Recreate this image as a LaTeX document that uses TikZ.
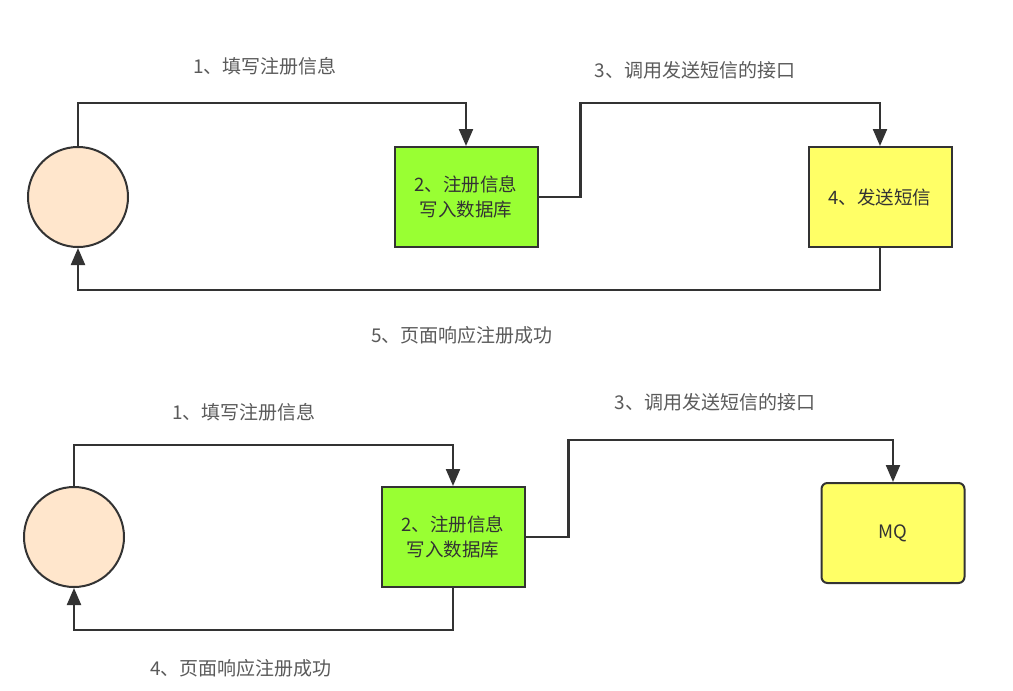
\documentclass[tikz,border=0pt]{standalone}
\usepackage{fontspec}
\setmainfont{Noto Sans CJK SC}
\usepackage{tikz}
\usetikzlibrary{arrows.meta,positioning,calc}
\usepackage{xcolor}
\definecolor{userpeach}{RGB}{255,230,204}
\definecolor{dbgreen}{RGB}{153,255,51}
\definecolor{smsyellow}{RGB}{255,255,102}
\definecolor{edgegray}{RGB}{51,51,51}
\definecolor{labelgray}{RGB}{90,90,90}

\begin{document}
\begin{tikzpicture}[x=1pt,y=-1pt,
    user/.style={circle,draw=edgegray,line width=2pt,fill=userpeach,minimum size=100pt,inner sep=0pt},
    box/.style={rectangle,draw=edgegray,line width=2pt,minimum width=143pt,minimum height=100pt,
        align=center,font=\fontsize{18.5}{25}\selectfont,text=edgegray},
    flow/.style={draw=edgegray,line width=2.2pt,-{Triangle[length=17pt,width=14pt]}},
    lbl/.style={font=\fontsize{19}{22}\selectfont,text=labelgray}]
    \useasboundingbox (0,0) rectangle (1013,691);
    % upper flow: everything in one request
    \node[user] (u1) at (78,197) {};
    \node[box,fill=dbgreen] (db1) at (466,197) {2、注册信息\\写入数据库};
    \node[box,fill=smsyellow] (sms) at (880,197) {4、发送短信};
    \draw[flow] (u1.north) -- (u1.north |- 0,103) -| (db1.north);
    \draw[flow] (db1.east) -- ++(42,0) |- (sms.north |- 0,103) -- (sms.north);
    \draw[flow] (sms.south) -- (sms.south |- 0,290) -| (u1.south);
    \node[lbl] (l1) at (265,66) {1、填写注册信息};
    \node[lbl] (l3) at (695,70) {3、调用发送短信的接口};
    \node[lbl] (l5) at (462,335) {5、页面响应注册成功};
    % lower flow: message queue
    \node[user] (u2) at (74,537) {};
    \node[box,fill=dbgreen] (db2) at (453,537) {2、注册信息\\写入数据库};
    \node[box,fill=smsyellow,rounded corners=6pt] (mq) at (893,533) {MQ};
    \draw[flow] (u2.north) -- (u2.north |- 0,445) -| (db2.north);
    \draw[flow] (db2.east) -- ++(43,0) |- (mq.north |- 0,440) -- (mq.north);
    \draw[flow] (db2.south) -- (db2.south |- 0,630) -| (u2.south);
    \node[lbl] (l1b) at (244,412) {1、填写注册信息};
    \node[lbl] (l3b) at (715,402) {3、调用发送短信的接口};
    \node[lbl] (l4b) at (241,668) {4、页面响应注册成功};
\end{tikzpicture}
\end{document}
